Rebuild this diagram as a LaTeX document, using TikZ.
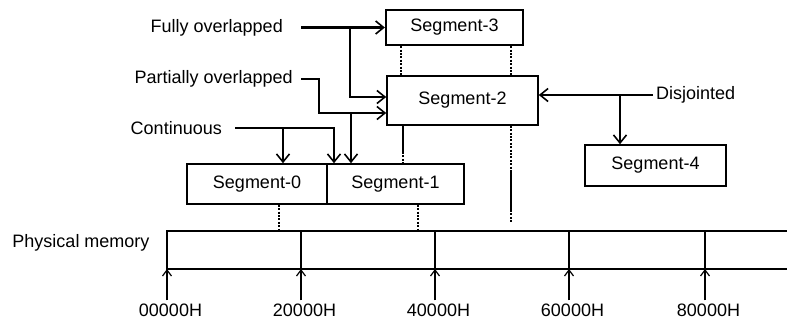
\documentclass[tikz,border=0pt]{standalone}
\usepackage{fontspec}
\setmainfont{Liberation Sans}
\usetikzlibrary{arrows.meta, positioning}
\newcommand{\diagfont}{\fontsize{18}{20}\selectfont}
\tikzset{
  segbox/.style  = {rectangle, draw=black, line width=1.6pt, fill=white,
                    inner sep=0pt, font=\diagfont},
  lbl/.style     = {inner sep=0pt, font=\diagfont},
  addrlbl/.style = {lbl, inner ysep=3pt},
  link/.style    = {-{Straight Barb[length=8pt, width=13pt, line width=1.6pt]}, line width=2.4pt},
  plain/.style   = {line width=2.4pt},
  dotlink/.style = {line width=2.6pt, dash pattern=on 2pt off 1.4pt},
  memline/.style = {line width=1.3pt},
  addrlink/.style= {-{Straight Barb[length=6pt, width=9pt, line width=1.2pt]}, line width=1.3pt},
}

\begin{document}
\begin{tikzpicture}[x=1pt, y=-1pt]
        \useasboundingbox (0,0) rectangle (787,322);
        \node[segbox, line width=2.2pt, minimum width=137pt, minimum height=35pt] (seg3) at (454.5,27.5) {Segment-3};
        \node[segbox, minimum width=151pt, minimum height=49pt] (seg2) at (462.5,100.5) {Segment-2};
        \node[segbox, minimum width=140pt, minimum height=40pt] (seg0) at (257,184) {Segment-0};
        \node[segbox, minimum width=137pt, minimum height=40pt] (seg1) at (395.5,184) {Segment-1};
        \node[segbox, minimum width=141pt, minimum height=41pt] (seg4) at (655.5,165.5) {Segment-4};
        \node[lbl, anchor=east] (full) at (283,27.5) {Fully overlapped};
        \node[lbl, anchor=east] (part) at (293,79) {Partially overlapped};
        \node[lbl, anchor=east] (cont) at (222,128) {Continuous};
        \node[lbl, anchor=west] (disj) at (656,95) {Disjointed};
        \node[lbl] (phys) at (81,243) {Physical memory};
        \coordinate (fj) at (350,27.5);
        \coordinate (fk) at (350,97);
        \coordinate (pj) at (319,79);
        \coordinate (pk) at (351,113);
        \coordinate (cj) at (283,128);
        \coordinate (ck) at (334,128);
        \coordinate (dj) at (620,95);
        \draw[link] ([xshift=18pt]full.east) -- (seg3.west);
        \draw[link] (fj) -- (fk) -- (fk -| seg2.west);
        \draw[link] ([xshift=8pt]part.east) -- (pj) |- (pk -| seg2.west);
        \draw[link] (pk) -- (pk |- seg1.north);
        \draw[link] ([xshift=13pt]cont.east) -- (ck) -- (ck |- seg1.north);
        \draw[link] (cj) -- (cj |- seg0.north);
        \draw[link] ([xshift=-3pt]disj.west) -- (disj.west -| seg2.east);
        \draw[link] (dj) -- (dj |- seg4.north);
        \coordinate (ta) at (401,60);
        \coordinate (tb) at (511,60);
        \draw[dotlink] (seg3.south -| ta) -- (seg2.north -| ta);
        \draw[dotlink] (seg3.south -| tb) -- (seg2.north -| tb);
        \coordinate (ua) at (403,152);
        \draw[plain] (seg2.south -| ua) -- (ua);
        \draw[dotlink] (ua) -- (ua |- seg1.north);
        \coordinate (ub1) at (511,170);
        \coordinate (ub2) at (511,210);
        \coordinate (ub3) at (511,223);
        \draw[dotlink] (seg2.south -| ub1) -- (ub1);
        \draw[plain] (ub1) -- (ub2);
        \draw[dotlink] (ub2) -- (ub3);
        \coordinate (va) at (279,231);
        \coordinate (vb) at (418,231);
        \draw[dotlink] (seg0.south -| va) -- (va);
        \draw[dotlink] (seg1.south -| vb) -- (vb);
        \draw[memline] (787,231) -- (167,231) -- (167,269) -- (787,269);
        \foreach \i/\x/\t in {0/167/00000H, 1/301/20000H, 2/435/40000H, 3/569/60000H, 4/705/80000H}{
            \coordinate (top\i) at (\x,231);
            \coordinate (bot\i) at (\x,269);
            \draw[memline] (top\i) -- (bot\i);
            \node[addrlbl] (addr\i) at ([xshift=3.5pt]\x,310) {\t};
            \draw[addrlink] (addr\i.north -| bot\i) -- (bot\i);
        }
    \end{tikzpicture}
\end{document}
